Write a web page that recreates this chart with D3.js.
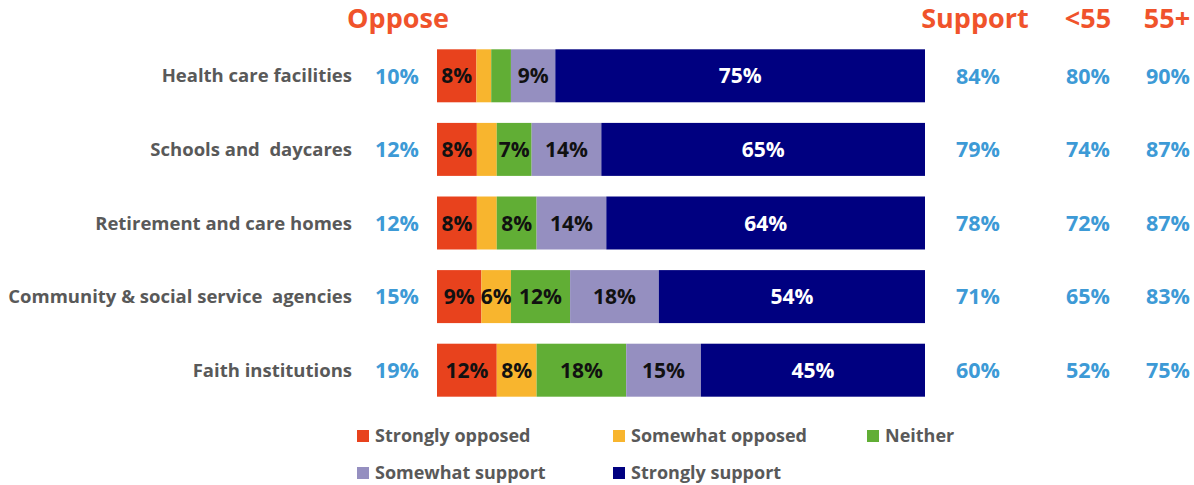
<!DOCTYPE html>
<html>
<head>
<meta charset="utf-8">
<script src="https://cdn.jsdelivr.net/npm/d3@7"></script>
<style>
  html, body { margin: 0; padding: 0; background: #fff; }
  svg { display: block; font-family: "Open Sans", Lato, sans-serif; }
  text { white-space: pre; }
</style>
</head>
<body>
<svg id="chart" width="1194" height="485"></svg>
<script>
// Attitudes by institution type, percentages per response
const categories = [
  "Health care facilities",
  "Schools and  daycares",
  "Retirement and care homes",
  "Community & social service  agencies",
  "Faith institutions"
];
const seriesNames = ["Strongly opposed", "Somewhat opposed", "Neither", "Somewhat support", "Strongly support"];
const stronglyOpposed = [8, 8, 8, 9, 12];
const somewhatOpposed = [3, 4, 4, 6, 8];
const neither = [4, 7, 8, 12, 18];
const somewhatSupport = [9, 14, 14, 18, 15];
const stronglySupport = [75, 65, 64, 54, 45];
const opposeTotal = [10, 12, 12, 15, 19];
const supportTotal = [84, 79, 78, 71, 60];
const under55 = [80, 74, 72, 65, 52];
const over55 = [90, 87, 87, 83, 75];
const sideHeaders = ["Oppose", "Support", "<55", "55+"];

const colors = ["#e8421d", "#f8b52e", "#61ae35", "#958fc0", "#000080"];
const labelColors = ["#111", "#111", "#111", "#111", "#fff"];

const svg = d3.select("#chart");
const barLeft = 437, barRight = 925;

const y = d3.scaleBand()
  .domain(categories)
  .range([39, 407])
  .paddingInner(0.28)
  .paddingOuter(0.14);

const series = [stronglyOpposed, somewhatOpposed, neither, somewhatSupport, stronglySupport];

// Each row is a 100% bar, so scale each one to its own total
categories.forEach((cat, i) => {
  const vals = series.map(s => s[i]);
  const total = d3.sum(vals);
  const x = d3.scaleLinear().domain([0, total]).range([barLeft, barRight]);
  let acc = 0;
  const segs = vals.map((v, k) => { const s = { k, v, x0: acc, x1: acc + v }; acc += v; return s; });
  const g = svg.append("g");
  g.selectAll("rect").data(segs).join("rect")
    .attr("x", d => x(d.x0))
    .attr("y", y(cat))
    .attr("width", d => x(d.x1) - x(d.x0))
    .attr("height", y.bandwidth())
    .attr("fill", d => colors[d.k]);
  g.selectAll("text").data(segs.filter(d => d.v >= 5)).join("text")
    .attr("x", d => (x(d.x0) + x(d.x1)) / 2)
    .attr("y", y(cat) + y.bandwidth() / 2)
    .attr("dy", "0.36em")
    .attr("text-anchor", "middle")
    .attr("font-size", 21)
    .attr("font-weight", 700)
    .attr("fill", d => labelColors[d.k])
    .text(d => d.v + "%");
});

// Category labels
svg.append("g").selectAll("text").data(categories).join("text")
  .attr("x", 352)
  .attr("y", d => y(d) + y.bandwidth() / 2)
  .attr("dy", "0.36em")
  .attr("text-anchor", "end")
  .attr("font-size", 18.5)
  .attr("font-weight", 700)
  .attr("fill", "#595959")
  .text(d => d);

// Side columns of totals
const columns = [
  { vals: opposeTotal, cx: 397 },
  { vals: supportTotal, cx: 978 },
  { vals: under55, cx: 1088 },
  { vals: over55, cx: 1168 }
];
columns.forEach(col => {
  svg.append("g").selectAll("text").data(categories).join("text")
    .attr("x", col.cx)
    .attr("y", (d) => y(d) + y.bandwidth() / 2)
    .attr("dy", "0.36em")
    .attr("text-anchor", "middle")
    .attr("font-size", 21.5)
    .attr("font-weight", 700)
    .attr("fill", "#3d9ad6")
    .text((d, i) => col.vals[i] + "%");
});

// Column headers
const headerX = [398, 975, 1088, 1167];
svg.append("g").selectAll("text").data(sideHeaders).join("text")
  .attr("x", (d, i) => headerX[i])
  .attr("y", 28)
  .attr("text-anchor", "middle")
  .attr("font-size", 27)
  .attr("font-weight", 700)
  .attr("fill", "#f0532b")
  .text(d => d);

// Legend
const legendPos = [[357, 436], [613, 436], [867, 436], [357, 473], [613, 473]];
const lg = svg.append("g").selectAll("g").data(seriesNames).join("g")
  .attr("transform", (d, i) => `translate(${legendPos[i][0]},${legendPos[i][1]})`);
lg.append("rect")
  .attr("x", 0).attr("y", -6).attr("width", 12).attr("height", 12)
  .attr("fill", (d, i) => colors[i]);
lg.append("text")
  .attr("x", 18).attr("dy", "0.36em")
  .attr("font-size", 18)
  .attr("font-weight", 700)
  .attr("fill", "#595959")
  .text(d => d);
</script>
</body>
</html>
